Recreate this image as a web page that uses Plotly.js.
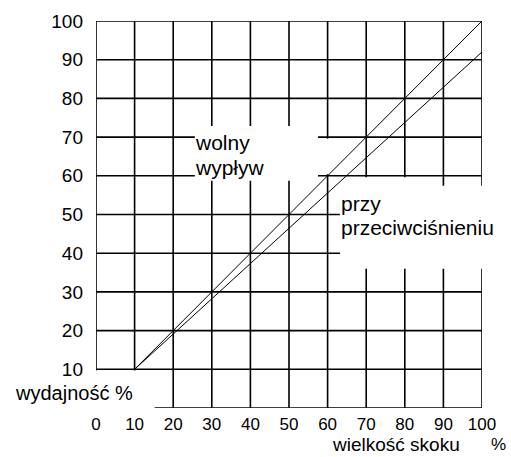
<!DOCTYPE html>
<html>
<head>
<meta charset="utf-8">
<script src="https://cdn.plot.ly/plotly-3.0.1.min.js"></script>
<style>html,body{margin:0;padding:0;background:#fff;}#chart{width:511px;height:457px;}</style>
</head>
<body>
<div id="chart"></div>
<script>
// Data
const X_TICKS = [0, 10, 20, 30, 40, 50, 60, 70, 80, 90, 100];
const Y_TICKS = [10, 20, 30, 40, 50, 60, 70, 80, 90, 100];
const GRID_X = [0, 10, 20, 30, 40, 50, 60, 70, 80, 90, 100];
const GRID_Y = [0, 10, 20, 30, 40, 50, 60, 70, 80, 90, 100];
const FREE_X = [10, 100];          // wolny wypływ
const FREE_Y = [10, 100];
const BACK_X = [10, 100];          // przy przeciwciśnieniu
const BACK_Y = [10, 92];
const LABEL_FREE = ["wolny", "wypływ"];
const LABEL_BACK = ["przy", "przeciwciśnieniu"];
const Y_TITLE = "wydajność %";
const X_TITLE = "wielkość skoku";

const FONT = "Liberation Sans, Arial, sans-serif";
const shapes = [];
GRID_X.forEach(v => shapes.push({type:'line', xref:'x', yref:'y', x0:v, x1:v, y0:0, y1:100, layer:'below', line:{color:'#000', width:1.6}}));
GRID_Y.forEach(v => shapes.push({type:'line', xref:'x', yref:'y', x0:0, x1:100, y0:v, y1:v, layer:'below', line:{color:'#000', width:1.6}}));
// white label areas hiding grid
const blanks = [
  [-2, 15.2, -2, 9.7],
  [25.6, 57.5, 58.7, 72.9],
  [57.5, 62, 60.4, 69.6],
  [63.2, 86, 36, 59.6],
  [86, 102, 36, 57.4]
];
blanks.forEach(b => shapes.push({type:'rect', xref:'x', yref:'y', x0:b[0], x1:b[1], y0:b[2], y1:b[3], layer:'between', fillcolor:'#fff', line:{width:0}}));

const traces = [
  {x: FREE_X, y: FREE_Y, mode:'lines', line:{color:'#000', width:1}, hoverinfo:'skip', showlegend:false},
  {x: BACK_X, y: BACK_Y, mode:'lines', line:{color:'#000', width:1}, hoverinfo:'skip', showlegend:false}
];

const ann = (text, x, y, size, ref) => ({text, x, y, xref: ref||'x', yref: ref||'y', xanchor:'left', yanchor:'middle', showarrow:false, font:{family:FONT, size:size||21, color:'#000'}});
const annotations = [
  ann(LABEL_FREE[0], 25.2, 68.6),
  ann(LABEL_FREE[1], 25.2, 62.1),
  ann(LABEL_BACK[0], 63.0, 52.8),
  ann(LABEL_BACK[1], 63.0, 46.7),
  ann(Y_TITLE, -0.215, 0.040, 20, 'paper'),
  ann(X_TITLE, 0.605, -0.094, 19, 'paper'),
  ann("%", 1.018, -0.094, 17, 'paper')
];

const layout = {
  width: 511, height: 457,
  margin: {l:96, r:29, t:21, b:49, pad:0},
  paper_bgcolor:'#fff', plot_bgcolor:'#fff',
  showlegend:false,
  xaxis: {range:[0,100], tickmode:'array', tickvals:X_TICKS, ticktext:X_TICKS.map(String),
          showgrid:false, zeroline:false, showline:false, ticks:'', ticklabelstandoff:4,
          tickfont:{family:FONT, size:17, color:'#000'}, fixedrange:true},
  yaxis: {range:[0,100], tickmode:'array', tickvals:Y_TICKS, ticktext:Y_TICKS.map(String),
          showgrid:false, zeroline:false, showline:false, ticks:'', ticklabelstandoff:12,
          tickfont:{family:FONT, size:19, color:'#000'}, fixedrange:true},
  shapes, annotations
};
Plotly.newPlot('chart', traces, layout, {displayModeBar:false, staticPlot:true});
</script>
</body>
</html>
